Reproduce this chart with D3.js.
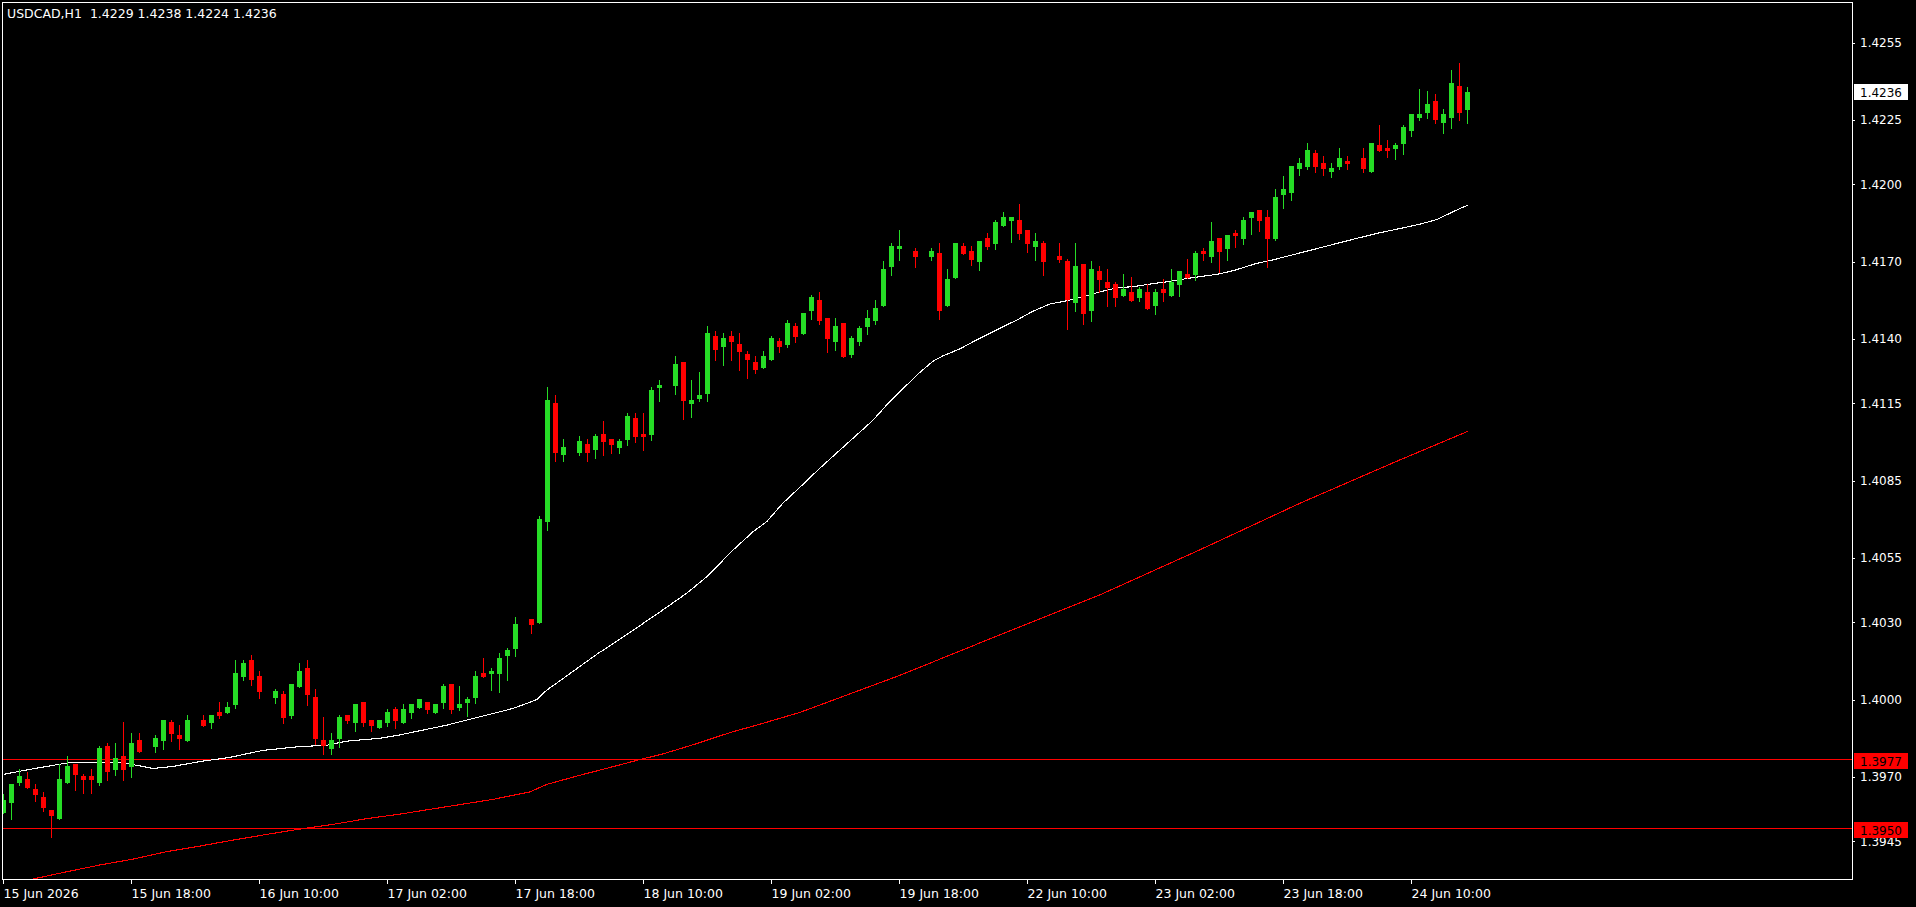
<!DOCTYPE html>
<html><head><meta charset="utf-8">
<script src="https://cdn.jsdelivr.net/npm/d3@7"></script>
<style>html,body{margin:0;padding:0;background:#000;overflow:hidden}</style>
</head><body>
<svg id="chart" width="1916" height="907"></svg>
<script>
const symbolTitle = "USDCAD,H1  1.4229 1.4238 1.4224 1.4236";

const opens = [1.39559,1.39600,1.39677,1.39692,1.39653,1.39622,1.39571,1.39537,1.39676,1.39750,
1.39703,1.39703,1.39676,1.39820,1.39727,1.39781,1.39738,1.39843,1.39797,1.39816,
1.39839,1.39913,1.39863,1.39839,1.39921,1.39921,1.39909,1.39952,1.39948,1.39979,
1.40088,1.40154,1.40092,1.40030,1.40006,1.40022,1.39936,1.40049,1.40123,1.40010,
1.39843,1.39808,1.39847,1.39940,1.39909,1.39991,1.39921,1.39890,1.39909,1.39964,
1.39909,1.39948,1.39967,1.39991,1.39948,1.39987,1.40061,1.39967,1.39987,1.40006,
1.40103,1.40099,1.40099,1.40169,1.40196,1.40293,1.40313,1.40297,1.40689,1.41151,
1.40949,1.40981,1.40957,1.40992,1.40969,1.41031,1.41012,1.40977,1.41008,1.41093,
1.41031,1.41027,1.41210,1.41221,1.41217,1.41310,1.41147,1.41167,1.41186,1.41411,
1.41369,1.41411,1.41380,1.41342,1.41310,1.41287,1.41318,1.41392,1.41376,1.41450,
1.41419,1.41509,1.41551,1.41481,1.41388,1.41462,1.41338,1.41388,1.41446,1.41470,
1.41528,1.41679,1.41749,1.41761,1.41741,1.41718,1.41718,1.41734,1.41528,1.41637,
1.41761,1.41741,1.41699,1.41792,1.41769,1.41838,1.41858,1.41862,1.41823,1.41757,
1.41772,1.41699,1.41722,1.41703,1.41540,1.41691,1.41509,1.41664,1.41621,1.41613,
1.41567,1.41582,1.41559,1.41582,1.41528,1.41594,1.41567,1.41609,1.41652,1.41648,
1.41741,1.41718,1.41792,1.41749,1.41811,1.41788,1.41869,1.41901,1.41873,1.41788,
1.41959,1.41967,1.42060,1.42067,1.42122,1.42083,1.42048,1.42067,1.42091,1.42079,
1.42102,1.42048,1.42153,1.42141,1.42137,1.42157,1.42207,1.42258,1.42277,1.42324,
1.42238,1.42258,1.42382,1.42290];

const highs = [1.39634,1.39672,1.39731,1.39720,1.39672,1.39641,1.39571,1.39750,1.39781,1.39750,
1.39711,1.39731,1.39820,1.39832,1.39832,1.39913,1.39870,1.39870,1.39797,1.39863,
1.39921,1.39921,1.39901,1.39940,1.39921,1.39940,1.39940,1.39991,1.39991,1.40154,
1.40154,1.40173,1.40111,1.40030,1.40041,1.40033,1.40061,1.40142,1.40154,1.40041,
1.39932,1.39870,1.39940,1.39940,1.39983,1.39991,1.39921,1.39921,1.39964,1.39971,
1.39983,1.39983,1.40002,1.39991,1.39983,1.40061,1.40061,1.40053,1.40010,1.40111,
1.40161,1.40123,1.40181,1.40200,1.40321,1.40293,1.40313,1.40713,1.41213,1.41182,
1.41012,1.40981,1.41023,1.41012,1.41031,1.41081,1.41012,1.41012,1.41113,1.41113,
1.41113,1.41213,1.41241,1.41221,1.41334,1.41310,1.41241,1.41272,1.41450,1.41431,
1.41423,1.41431,1.41423,1.41353,1.41334,1.41353,1.41411,1.41404,1.41474,1.41462,
1.41501,1.41571,1.41582,1.41481,1.41481,1.41462,1.41411,1.41450,1.41512,1.41551,
1.41703,1.41772,1.41823,1.41761,1.41753,1.41718,1.41753,1.41772,1.41672,1.41772,
1.41772,1.41761,1.41780,1.41811,1.41862,1.41893,1.41873,1.41924,1.41823,1.41811,
1.41780,1.41699,1.41772,1.41710,1.41772,1.41691,1.41703,1.41683,1.41672,1.41621,
1.41652,1.41640,1.41602,1.41613,1.41594,1.41633,1.41672,1.41664,1.41710,1.41741,
1.41753,1.41854,1.41792,1.41804,1.41823,1.41873,1.41893,1.41901,1.41901,1.41982,
1.42033,1.42071,1.42102,1.42161,1.42133,1.42110,1.42083,1.42141,1.42110,1.42079,
1.42141,1.42161,1.42230,1.42172,1.42161,1.42230,1.42273,1.42370,1.42362,1.42351,
1.42293,1.42444,1.42471,1.42380];

const lows = [1.39559,1.39537,1.39668,1.39658,1.39606,1.39569,1.39467,1.39537,1.39676,1.39649,
1.39637,1.39637,1.39668,1.39688,1.39707,1.39688,1.39700,1.39797,1.39797,1.39797,
1.39808,1.39839,1.39808,1.39839,1.39921,1.39898,1.39890,1.39929,1.39948,1.39967,
1.40076,1.40057,1.40006,1.40030,1.39987,1.39909,1.39929,1.40049,1.39979,1.39828,
1.39789,1.39789,1.39816,1.39909,1.39878,1.39898,1.39878,1.39890,1.39898,1.39890,
1.39909,1.39929,1.39967,1.39948,1.39948,1.39967,1.39948,1.39960,1.39936,1.39987,
1.40088,1.40037,1.40030,1.40076,1.40169,1.40293,1.40259,1.40297,1.40658,1.40926,
1.40926,1.40981,1.40949,1.40926,1.40938,1.40949,1.40957,1.40957,1.40988,1.41000,
1.40969,1.41008,1.41159,1.41221,1.41186,1.41089,1.41097,1.41159,1.41159,1.41318,
1.41299,1.41318,1.41279,1.41248,1.41268,1.41287,1.41318,1.41349,1.41369,1.41388,
1.41419,1.41477,1.41458,1.41349,1.41357,1.41330,1.41330,1.41376,1.41419,1.41458,
1.41528,1.41648,1.41706,1.41761,1.41679,1.41718,1.41706,1.41477,1.41528,1.41637,
1.41730,1.41687,1.41668,1.41749,1.41749,1.41838,1.41776,1.41788,1.41737,1.41706,
1.41648,1.41699,1.41699,1.41439,1.41509,1.41458,1.41470,1.41582,1.41528,1.41528,
1.41567,1.41547,1.41547,1.41516,1.41497,1.41547,1.41567,1.41567,1.41637,1.41629,
1.41706,1.41699,1.41660,1.41706,1.41757,1.41769,1.41807,1.41819,1.41679,1.41784,
1.41908,1.41939,1.42036,1.42060,1.42048,1.42036,1.42029,1.42060,1.42060,1.42079,
1.42048,1.42048,1.42130,1.42106,1.42099,1.42118,1.42188,1.42250,1.42258,1.42238,
1.42199,1.42219,1.42250,1.42240];

const closes = [1.39610,1.39672,1.39703,1.39658,1.39630,1.39580,1.39548,1.39692,1.39742,1.39707,
1.39688,1.39688,1.39812,1.39719,1.39773,1.39727,1.39832,1.39797,1.39797,1.39851,
1.39921,1.39866,1.39847,1.39921,1.39921,1.39898,1.39940,1.39936,1.39971,1.40103,
1.40142,1.40076,1.40030,1.40030,1.40033,1.39929,1.40061,1.40111,1.40018,1.39847,
1.39820,1.39843,1.39932,1.39917,1.39983,1.39909,1.39898,1.39921,1.39952,1.39917,
1.39964,1.39983,1.40002,1.39960,1.39983,1.40053,1.39960,1.39983,1.40002,1.40092,
1.40088,1.40111,1.40161,1.40193,1.40293,1.40293,1.40290,1.40701,1.41163,1.40957,
1.40981,1.40981,1.41004,1.40957,1.41023,1.41000,1.40988,1.41004,1.41101,1.41019,
1.41019,1.41202,1.41221,1.41221,1.41303,1.41159,1.41163,1.41182,1.41423,1.41357,
1.41404,1.41388,1.41349,1.41318,1.41279,1.41334,1.41404,1.41369,1.41462,1.41408,
1.41501,1.41563,1.41470,1.41400,1.41450,1.41330,1.41404,1.41442,1.41481,1.41520,
1.41672,1.41761,1.41761,1.41761,1.41718,1.41718,1.41741,1.41509,1.41633,1.41772,
1.41730,1.41706,1.41780,1.41757,1.41854,1.41873,1.41873,1.41807,1.41769,1.41780,
1.41699,1.41699,1.41706,1.41551,1.41683,1.41497,1.41672,1.41629,1.41598,1.41559,
1.41594,1.41547,1.41594,1.41516,1.41582,1.41578,1.41621,1.41664,1.41637,1.41734,
1.41730,1.41780,1.41737,1.41804,1.41800,1.41862,1.41893,1.41858,1.41788,1.41951,
1.41982,1.42071,1.42083,1.42133,1.42067,1.42060,1.42064,1.42102,1.42079,1.42079,
1.42060,1.42161,1.42130,1.42130,1.42153,1.42223,1.42273,1.42273,1.42312,1.42250,
1.42273,1.42394,1.42277,1.42360];

// moving averages (bar position, price)
const maFastBars = [0,2.7,4.7,7.7,8.5,14.6,16.7,18.7,21.2,24.6,28.3,32.4,36.7,40.4,42.9,47.0,49.5,55.4,59.6,63.7,65.8,66.7,67.9,69.5,72.0,74.2,77.0,81.2,85.4,87.9,91.2,93.7,95.4,97.4,99.6,102.1,108.7,110.6,112.9,114.6,116.2,117.4,119.5,121.8,124.5,126.7,128.7,130.8,132.9,134.9,137.1,139.2,141.2,143.3,145.4,147.4,149.6,151.7,153.7,156.7,158.3,168.7,171.7,174.6,177.1,179.2,180.8,182.1,183];
const maFastVals = [1.39710,1.39726,1.39737,1.39753,1.39757,1.39757,1.39745,1.39733,1.39741,1.39760,1.39776,1.39803,1.39817,1.39823,1.39839,1.39850,1.39863,1.39901,1.39934,1.39966,1.39990,1.40001,1.40037,1.40072,1.40128,1.40177,1.40234,1.40322,1.40413,1.40477,1.40581,1.40652,1.40691,1.40762,1.40826,1.40900,1.41085,1.41151,1.41221,1.41272,1.41314,1.41334,1.41361,1.41399,1.41441,1.41474,1.41508,1.41536,1.41548,1.41564,1.41583,1.41599,1.41603,1.41613,1.41622,1.41632,1.41642,1.41651,1.41665,1.41694,1.41704,1.41787,1.41810,1.41829,1.41846,1.41864,1.41888,1.41907,1.41919];

const maSlowBars = [3.4,7.9,12.0,16.2,20.4,24.6,28.7,32.9,37.1,41.2,45.4,49.6,61.2,65.8,67.9,72.1,76.2,79.6,82.4,86.7,90.8,94.9,99.6,112.1,124.5,137.0,149.5,162.1,174.5,183];
const maSlowVals = [1.39302,1.39332,1.39358,1.39381,1.39410,1.39432,1.39455,1.39477,1.39498,1.39516,1.39538,1.39556,1.39613,1.39642,1.39671,1.39707,1.39740,1.39768,1.39789,1.39830,1.39872,1.39908,1.39951,1.40095,1.40251,1.40406,1.40581,1.40763,1.40930,1.41041];

const hLines = [1.3977, 1.3950];
const lastPrice = 1.4236;

const priceTicks = [1.4255,1.4225,1.4200,1.4170,1.4140,1.4115,1.4085,1.4055,1.4030,1.4000,1.3970,1.3945];
const timeTickBars = [0,16,32,48,64,80,96,112,128,144,160,176];
const timeTickLabels = ["15 Jun 2026","15 Jun 18:00","16 Jun 10:00","17 Jun 02:00","17 Jun 18:00","18 Jun 10:00","19 Jun 02:00","19 Jun 18:00","22 Jun 10:00","23 Jun 02:00","23 Jun 18:00","24 Jun 10:00"];

const COL_UP = "#26dc26", COL_DN = "#ff0000", COL_BG = "#000000";
const FONT = "DejaVu Sans, Verdana, sans-serif";

const svg = d3.select("#chart");
const plot = {left: 2, right: 1852, top: 2, bottom: 880};
const x = d3.scaleLinear().domain([-0.125, 231.125]).range([plot.left, plot.right]);
const y = d3.scaleLinear().domain([1.39300, 1.42708]).range([plot.bottom, plot.top]);

svg.append("rect").attr("width",1916).attr("height",907).attr("fill",COL_BG);

svg.append("defs").append("clipPath").attr("id","clip")
  .append("rect").attr("x",plot.left+1).attr("y",plot.top+1)
  .attr("width",plot.right-plot.left-1).attr("height",plot.bottom-plot.top-1);

const g = svg.append("g").attr("clip-path","url(#clip)").attr("shape-rendering","crispEdges");

// horizontal levels
g.selectAll("line.hl").data(hLines).join("line")
  .attr("x1",plot.left).attr("x2",plot.right)
  .attr("y1",d=>Math.round(y(d))+0.5).attr("y2",d=>Math.round(y(d))+0.5)
  .attr("stroke","#ff0000").attr("stroke-width",1);

// moving averages
const line = d3.line().x(d=>x(d[0])+0.5).y(d=>y(d[1]));
g.append("path").datum(maSlowBars.map((b,i)=>[b,maSlowVals[i]]))
  .attr("d",line).attr("fill","none").attr("stroke","#ff0000").attr("stroke-width",1.1);
g.append("path").datum(maFastBars.map((b,i)=>[b,maFastVals[i]]))
  .attr("d",line).attr("fill","none").attr("stroke","#ffffff").attr("stroke-width",1.1);

// candles
const bars = opens.map((o,i)=>({i,o,h:highs[i],l:lows[i],c:closes[i]}));
const colorOf = d => d.c > d.o ? COL_UP : (d.c < d.o ? COL_DN : COL_BG);
const cg = g.selectAll("g.candle").data(bars).join("g").attr("class","candle");
cg.append("line")
  .attr("x1",d=>x(d.i)+0.5).attr("x2",d=>x(d.i)+0.5)
  .attr("y1",d=>Math.round(y(d.h))).attr("y2",d=>Math.round(y(d.l))+1)
  .attr("stroke",colorOf).attr("stroke-width",1);
cg.append("rect")
  .attr("x",d=>x(d.i)-2).attr("width",5)
  .attr("y",d=>Math.round(y(Math.max(d.o,d.c))))
  .attr("height",d=>Math.max(1, Math.round(y(Math.min(d.o,d.c))) - Math.round(y(Math.max(d.o,d.c)))))
  .attr("fill",colorOf);

// frame
svg.append("rect").attr("x",plot.left+0.5).attr("y",plot.top+0.5)
  .attr("width",plot.right-plot.left).attr("height",plot.bottom-plot.top-1)
  .attr("fill","none").attr("stroke","#ffffff").attr("stroke-width",1)
  .attr("shape-rendering","crispEdges");

// price axis
const yAxis = d3.axisRight(y).tickValues(priceTicks).tickSize(3).tickPadding(5)
  .tickFormat(d3.format(".4f"));
const ya = svg.append("g").attr("transform",`translate(${plot.right},0)`).call(yAxis);
ya.select(".domain").remove();
ya.selectAll("line").attr("stroke","#fff").attr("shape-rendering","crispEdges");
ya.selectAll("text").attr("fill","#fff").attr("font-family",FONT).attr("font-size",12);

// time axis
const xAxis = d3.axisBottom(x).tickValues(timeTickBars).tickSize(4)
  .tickFormat((d,i)=>timeTickLabels[i]);
const xa = svg.append("g").attr("transform",`translate(0,${plot.bottom})`).call(xAxis);
xa.select(".domain").remove();
xa.selectAll("line").attr("stroke","#fff").attr("shape-rendering","crispEdges");
xa.selectAll("text").attr("fill","#fff").attr("font-family",FONT).attr("font-size",12.5)
  .attr("text-anchor","start").attr("x",0).attr("y",18).attr("dy",0);

// price labels on right
function priceTag(v, bg, fg, dyTop){
  const yy = Math.round(y(v));
  svg.append("rect").attr("x",plot.right+2).attr("y",yy-dyTop).attr("width",54).attr("height",16)
    .attr("fill",bg).attr("shape-rendering","crispEdges");
  svg.append("text").attr("x",plot.right+8).attr("y",yy-dyTop+12.5)
    .attr("fill",fg).attr("font-family",FONT).attr("font-size",12).text(d3.format(".4f")(v));
}
hLines.forEach(v=>priceTag(v,"#ff0000","#000",6));
priceTag(lastPrice,"#ffffff","#000",8);

// title
svg.append("text").attr("x",7).attr("y",18).attr("fill","#fff")
  .attr("font-family",FONT).attr("font-size",12.5).style("white-space","pre").text(symbolTitle);
</script>
</body></html>
